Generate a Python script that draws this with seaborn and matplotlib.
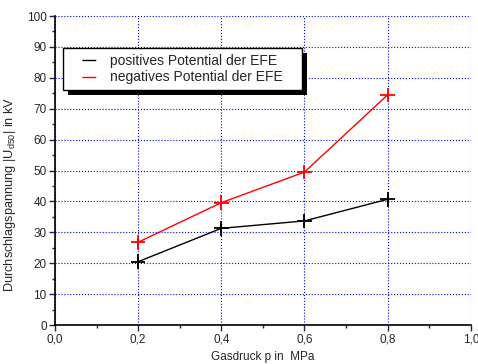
import matplotlib
matplotlib.use("Agg")
import matplotlib.pyplot as plt
import seaborn as sns
import pandas as pd
from matplotlib.patches import Rectangle
from matplotlib.ticker import MultipleLocator, FuncFormatter

# Daten
druck = [0.2, 0.4, 0.6, 0.8]
u_pos = [20.5, 31.3, 33.7, 40.7]
u_neg = [26.8, 39.6, 49.5, 74.5]
err_pos = [1.5, 1.5, 1.5, 1.5]
err_neg = [1.5, 1.0, 0.5, 1.0]
labels = ["positives Potential der EFE", "negatives Potential der EFE"]
farben = ["black", "red"]

df = pd.DataFrame({
    "p": druck * 2,
    "U": u_pos + u_neg,
    "err": err_pos + err_neg,
    "serie": [labels[0]] * 4 + [labels[1]] * 4,
})

sns.set_style("white")
plt.rcParams["font.family"] = ["Liberation Sans", "DejaVu Sans"]
plt.rcParams["mathtext.fontset"] = "custom"
plt.rcParams["mathtext.rm"] = "Liberation Sans"
plt.rcParams["mathtext.it"] = "Liberation Sans"

fig = plt.figure(figsize=(4.78, 3.64), dpi=100)
ax = fig.add_axes([0.115, 0.107, 0.87, 0.849])

sns.lineplot(data=df, x="p", y="U", hue="serie", palette=farben,
             linewidth=1, ax=ax, legend=True)
sns.scatterplot(data=df, x="p", y="U", hue="serie", palette=farben,
                marker="+", s=110, linewidth=1.3, ax=ax, legend=False, zorder=3)

for lab, col in zip(labels, farben):
    d = df[df["serie"] == lab]
    ax.errorbar(d["p"], d["U"], yerr=d["err"], fmt="none", ecolor=col,
                elinewidth=1.2, capsize=0)

ax.set_xlim(0, 1.0)
ax.set_ylim(0, 100)
ax.xaxis.set_major_locator(MultipleLocator(0.2))
ax.xaxis.set_minor_locator(MultipleLocator(0.1))
ax.yaxis.set_major_locator(MultipleLocator(10))
ax.yaxis.set_minor_locator(MultipleLocator(5))
ax.xaxis.set_major_formatter(FuncFormatter(lambda v, _: f"{v:.1f}".replace(".", ",")))
ax.tick_params(axis="both", which="major", direction="out", length=4, width=1,
               labelsize=8.5, bottom=True, left=True, pad=2)
ax.tick_params(axis="both", which="minor", direction="out", length=2.5, width=1,
               bottom=True, left=True)

ax.grid(True, which="major", color="blue", linestyle=":", linewidth=0.8)
ax.set_axisbelow(True)

for s in ["top", "right"]:
    ax.spines[s].set_visible(False)
for s in ["left", "bottom"]:
    ax.spines[s].set_color("black")
    ax.spines[s].set_linewidth(1.2)

ax.set_xlabel("Gasdruck p in  MPa", fontsize=8.5, labelpad=4)
ax.set_ylabel(r"Durchschlagspannung |U$_{\mathregular{d50}}$| in kV", fontsize=9.2)
ax.yaxis.set_label_coords(-0.088, 0.424)

# Legende mit hartem Schatten wie im Original
leg = ax.legend(loc="upper left", bbox_to_anchor=(0.019, 0.5, 0.575, 0.396),
                mode="expand", fontsize=10, frameon=True, fancybox=False,
                edgecolor="black", framealpha=1, handlelength=2.04,
                borderpad=0.4, labelspacing=0.2, handletextpad=0.94,
                borderaxespad=0)
leg.get_frame().set_linewidth(1)
for h in leg.legend_handles:
    h.set_linewidth(1)
    h.set_linestyle((10.4, (10, 10.4)))

fig.canvas.draw()
bb = leg.get_window_extent().transformed(fig.transFigure.inverted())
dx, dy = 5 / 478, 5 / 364
ax.add_patch(Rectangle((bb.x0 + dx, bb.y0 - dy), bb.width, bb.height,
                       transform=fig.transFigure, facecolor="black",
                       edgecolor="none", zorder=4.9, clip_on=False))

fig.savefig("out.png", dpi=100)
